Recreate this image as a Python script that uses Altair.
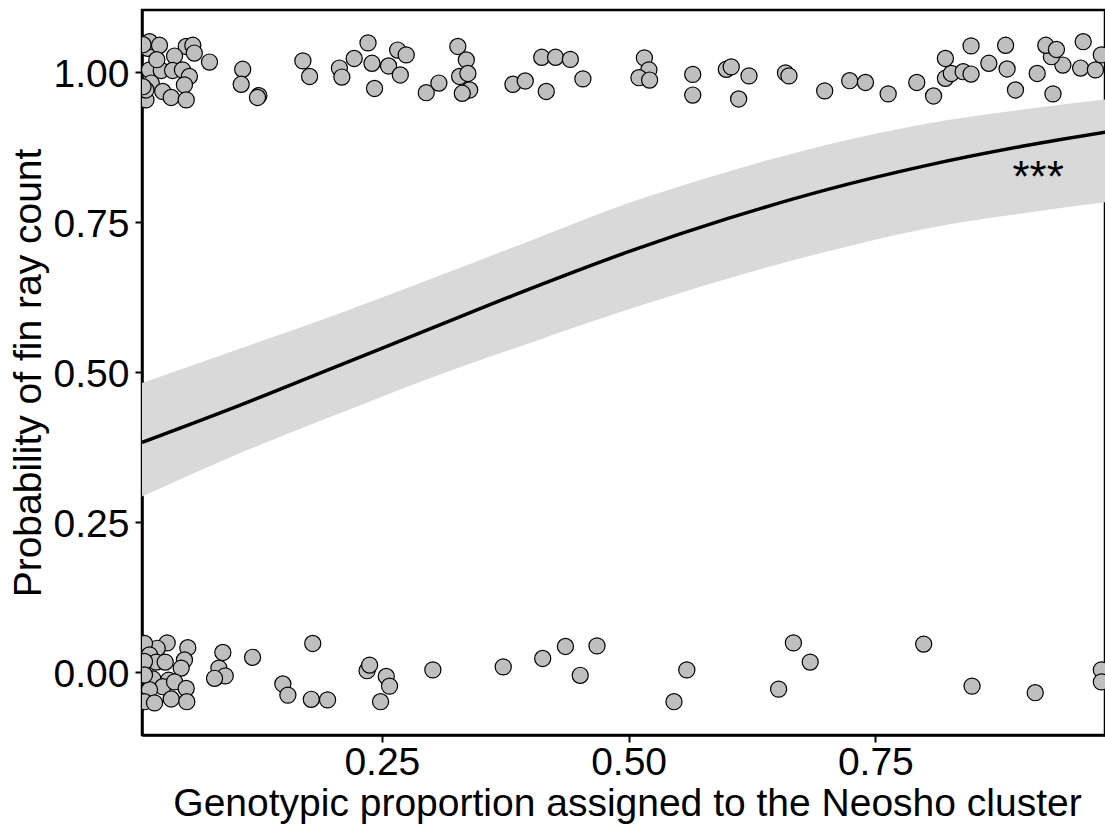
import altair as alt
import pandas as pd

# ---- observed points (jittered around 1 and 0) ----
top_x = [0.0129, 0.0146, 0.0247, 0.0518, 0.0585, 0.060, 0.040, 0.0754, 0.0146, 0.0265,
         0.038, 0.048, 0.055, 0.0163, 0.050, 0.028, 0.0366, 0.0518, 0.011, 0.011,
         0.008, 0.008, 0.022, 0.109, 0.1075, 0.1254, 0.124,
         0.170, 0.1768, 0.207, 0.2095, 0.222, 0.236, 0.240, 0.2426, 0.2568, 0.266, 0.2687,
         0.2747, 0.295, 0.3078, 0.327, 0.3356, 0.3288, 0.3372, 0.339, 0.3315, 0.3828,
         0.3953, 0.4166, 0.412, 0.426, 0.441, 0.4537, 0.516, 0.5206, 0.5105, 0.5213,
         0.565, 0.565, 0.599, 0.604, 0.622, 0.6115, 0.659, 0.6625, 0.6987, 0.724, 0.740,
         0.763, 0.792, 0.809, 0.821, 0.827, 0.839, 0.847, 0.821, 0.865, 0.8835, 0.892,
         0.914, 0.930, 0.940, 0.958, 0.973, 0.9284, 0.847, 0.882, 0.9227, 0.9335,
         0.9606, 0.979]
top_y = [1.039, 1.050, 1.044, 1.042, 1.044, 1.031, 1.026, 1.016, 1.003, 1.002,
         1.002, 1.003, 0.992, 0.981, 0.978, 0.967, 0.957, 0.953, 0.953, 0.9695,
         1.045, 0.975, 1.020, 1.004, 0.979, 0.960, 0.957,
         1.018, 0.992, 1.006, 0.991, 1.022, 1.048, 1.014, 0.972, 1.0095, 1.036, 0.9945,
         1.028, 0.965, 0.981, 1.042, 1.0195, 0.992, 0.997, 0.9695, 0.964, 0.979,
         0.9845, 0.967, 1.024, 1.024, 1.0205, 0.988, 1.023, 1.003, 0.990, 0.986,
         0.9955, 0.961, 1.004, 1.008, 0.993, 0.9545, 0.998, 0.993, 0.968, 0.985, 0.982,
         0.963, 0.982, 0.9595, 0.989, 0.997, 1.000, 0.996, 1.022, 1.014, 1.0045, 0.9695,
         0.997, 0.963, 1.011, 1.006, 1.003, 1.025, 1.043, 1.044, 1.044, 1.037,
         1.050, 1.028]

bot_x = [0.0325, 0.0534, 0.0224, 0.0095, 0.0146, 0.0214, 0.0305, 0.050, 0.0467, 0.0095,
         0.018, 0.034, 0.028, 0.040, 0.0518, 0.0146, 0.0095, 0.0197, 0.0366, 0.0524,
         0.0095, 0.0889, 0.0849, 0.0913, 0.0805, 0.119, 0.180, 0.1497, 0.1548, 0.1785,
         0.195, 0.235, 0.2376, 0.2545, 0.2578, 0.2487, 0.3017, 0.373, 0.413, 0.436,
         0.451, 0.468, 0.559, 0.546, 0.667, 0.684, 0.652, 0.799, 0.848, 0.912,
         0.979, 0.979]
bot_y = [0.048, 0.040, 0.039, 0.047, 0.028, 0.016, 0.016, 0.0195, 0.006, 0.017,
         -0.012, -0.014, -0.025, -0.017, -0.028, -0.030, -0.050, -0.052, -0.0455, -0.050,
         -0.0055, 0.032, 0.006, -0.007, -0.011, 0.024, 0.047, -0.0205, -0.039, -0.046,
         -0.047, 0.0017, 0.011, -0.008, -0.024, -0.050, 0.003, 0.008, 0.022, 0.042,
         -0.006, 0.043, 0.003, -0.050, 0.048, 0.016, -0.029, 0.046, -0.024, -0.035,
         0.003, -0.017]

# ---- fitted curve and confidence band ----
fit_x = [0.007, 0.10, 0.20, 0.30, 0.40, 0.50, 0.60, 0.70, 0.80, 0.90, 0.99]
fit_y = [0.382, 0.440, 0.506, 0.572, 0.638, 0.700, 0.755, 0.803, 0.843, 0.876, 0.901]
fit_lo = [0.292, 0.360, 0.426, 0.490, 0.548, 0.604, 0.655, 0.700, 0.738, 0.764, 0.784]
fit_hi = [0.481, 0.535, 0.593, 0.655, 0.718, 0.781, 0.833, 0.878, 0.913, 0.937, 0.955]

# ---- annotation ----
ann_x = [0.915]
ann_y = [0.7995]
ann_text = ["***"]

FONT = "Liberation Sans"
X_DOM = [0.007, 0.9827]
Y_DOM = [-0.1055, 1.1028]

pts = pd.DataFrame({"x": top_x + bot_x, "y": top_y + bot_y})
fit = pd.DataFrame({"x": fit_x, "y": fit_y, "lo": fit_lo, "hi": fit_hi})
ann = pd.DataFrame({"x": ann_x, "y": ann_y, "t": ann_text})

xscale = alt.Scale(domain=X_DOM, nice=False, zero=False)
yscale = alt.Scale(domain=Y_DOM, nice=False, zero=False)

xaxis = alt.Axis(
    title="Genotypic proportion assigned to the Neosho cluster",
    values=[0.25, 0.5, 0.75], format=".2f",
    labelPadding=1.5, titleX=485, titleY=80, titleBaseline="alphabetic",
    titleAlign="center", titleAnchor="start",
)
yaxis = alt.Axis(
    title="Probability of fin ray count",
    values=[0, 0.25, 0.5, 0.75, 1.0], format=".2f",
    labelPadding=6, labelOffset=2.5, titleX=-102, titleBaseline="alphabetic",
)

band = alt.Chart(fit).mark_area(color="#d9d9d9", clip=True, interpolate="monotone").encode(
    x=alt.X("x:Q", scale=xscale, axis=xaxis),
    y=alt.Y("lo:Q", scale=yscale, axis=yaxis),
    y2="hi:Q",
)
line = alt.Chart(fit).mark_line(color="black", strokeWidth=3.5, clip=True, interpolate="monotone").encode(
    x=alt.X("x:Q", scale=xscale),
    y=alt.Y("y:Q", scale=yscale),
)
points = alt.Chart(pts).mark_circle(
    size=260, color="#bfbfbf", opacity=1, stroke="black", strokeWidth=1.2, clip=True
).encode(
    x=alt.X("x:Q", scale=xscale),
    y=alt.Y("y:Q", scale=yscale),
)
text = alt.Chart(ann).mark_text(
    font=FONT, fontSize=44, color="black", align="center", baseline="alphabetic"
).encode(
    x=alt.X("x:Q", scale=xscale),
    y=alt.Y("y:Q", scale=yscale),
    text="t:N",
)

chart = alt.layer(points, band, line, text).properties(
    width=963, height=725,
    autosize=alt.AutoSizeParams(type="none"),
    padding={"left": 142, "top": 10, "right": 0, "bottom": 90},
    background="white",
).configure_view(
    stroke="black", strokeWidth=2.5,
).configure_axis(
    grid=False, domainColor="black", domainWidth=2.5,
    tickColor="black", tickWidth=2, tickSize=7,
    labelFont=FONT, labelFontSize=39, labelColor="black",
    titleFont=FONT, titleFontSize=39, titleColor="black", titleFontWeight="normal",
)

chart.save("out.html", embed_options={"renderer": "svg", "actions": False})
